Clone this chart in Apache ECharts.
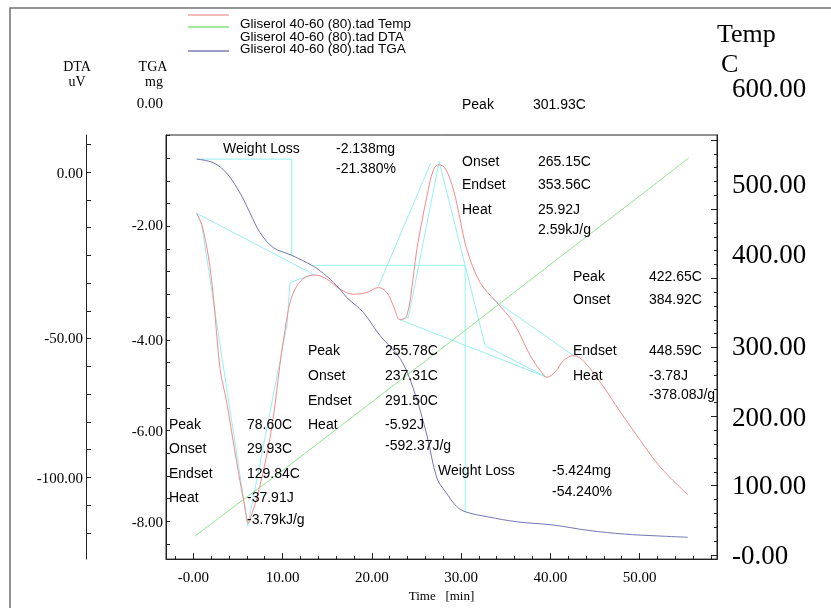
<!DOCTYPE html>
<html><head><meta charset="utf-8">
<script src="https://cdn.jsdelivr.net/npm/echarts@6/dist/echarts.min.js"></script>
<style>html,body{margin:0;padding:0;background:#fff}#c{width:831px;height:608px}</style>
</head><body><div id="c"></div>
<script>
// ---------------- data ----------------
const tempTime   = [0.19, 5, 10, 20, 30, 40, 50, 55.5];
const tempValues = [27, 74, 122, 221, 320, 420, 519, 574];            // C

const dtaTime   = [0.38,0.94,1.68,2.24,3.0,3.74,4.48,5.24,5.8,6.17,6.58,7.11,8.23,8.94,9.72,10.29,10.84,11.59,12.52,13.64,14.96,16.44,17.94,19.44,20.74,21.68,22.42,23.17,23.92,24.66,25.04,26.17,26.9,27.47,28.2,29.15,29.9,30.65,32.14,34.0,35.87,37.75,38.9,39.6,40.55,41.45,42.6,43.7,45.6,47.85,50.1,52.3,55.43];
const dtaValues = [-4.9,-8.9,-20.3,-34.6,-60.9,-72.9,-87.2,-101.5,-111.1,-116.5,-112.9,-107.5,-92,-78.8,-59.1,-46.6,-37.0,-31.1,-28.0,-27.1,-28.6,-32.2,-34.0,-33.4,-31.6,-33.4,-38.2,-43.2,-41.8,-27.5,-17.9,1.2,10.8,12.6,11.5,3.6,-7.2,-17.9,-29.8,-37,-44.2,-56.1,-61.6,-63.9,-62,-58,-56.1,-58,-65.7,-76.4,-86.7,-96.2,-106.3]; // uV

const tgaTime   = [0.38,2.24,3.74,5.24,6.36,7.48,8.97,11.03,13.45,14.96,16.44,17.2,19.06,20.93,23.2,24.66,26.17,27.3,28.3,29.5,30.5,33,36.3,40.3,44.3,48.3,52,55.4];
const tgaValues = [-0.02,-0.10,-0.33,-0.77,-1.21,-1.64,-1.97,-2.14,-2.38,-2.60,-2.89,-3.07,-3.40,-3.91,-4.42,-5.08,-6.10,-7.05,-7.36,-7.67,-7.79,-7.90,-8.01,-8.08,-8.20,-8.28,-8.32,-8.35]; // mg

// analysis lines drawn by the instrument software
const wl1Time = [0.38, 11.03, 11.03],  wl1Values = [-0.02, -0.02, -2.16];
const wl2Time = [13.45, 30.46, 30.46], wl2Values = [-2.36, -2.36, -7.79];
const base1Time = [0.38, 13.45],  base1Values = [-4.9, -26.8];
const tan1Time  = [0.38, 0.94, 6.1, 10.5, 10.84, 13.45], tan1Values = [-4.9, -9.0, -117.5, -45, -29.8, -26.8];
const tan2Time  = [20.75, 26.6], tan2Values = [-31.05, 13.2];
const tan3Time  = [23.17, 24.1, 27.55, 32.7, 39.6], tan3Values = [-43.2, -42.4, 13.8, -52.5, -63.9];
const base3Time = [23.17, 39.6], base3Values = [-43.2, -63.9];
const tan4Time  = [33.3, 42.6],  tan4Values = [-35.2, -56.1];

// tick labels as printed, and where the software printed them (axis units)
const xTickLabels   = ['-0.00','10.00','20.00','30.00','40.00','50.00'];
const xTickAt       = [0, 10, 20, 30, 40, 50];
const tgaTickLabels = ['0.00','-2.00','-4.00','-6.00','-8.00'];
const tgaTickAt     = [1.18, -1.48, -4.0, -6.0, -8.0];
const dtaTickLabels = ['0.00','-50.00','-100.00'];
const dtaTickAt     = [9.5, -50, -100];
const tempTickLabels= ['600.00','500.00','400.00','300.00','200.00','100.00','-0.00'];
const tempTickAt    = [672, 534, 433, 300, 199, 100, 0];

// ---------------- helpers ----------------
const zip = (a, b) => a.map((v, i) => [v, b[i]]);
const range = (from, to, step) => { const r = []; for (let v = from; step > 0 ? v <= to + 1e-9 : v >= to - 1e-9; v += step) r.push(+v.toFixed(6)); return r; };
const pick = (at, txt) => v => { let k = 0, b = Infinity; at.forEach((a, i) => { const d = Math.abs(a - v); if (d < b) { b = d; k = i; } }); return txt[k]; };

const X_MIN = -3.06, X_MAX = 58.68;
const AX = '#222';
const SERIF = '"Liberation Serif", "Times New Roman", serif';
const SANS = '"Liberation Sans", Arial, sans-serif';
const axisBase = { type: 'value', splitLine: { show: false }, axisLine: { onZero: false } };

const chart = echarts.init(document.getElementById('c'), null, { renderer: 'canvas' });

const yData = (idx, pos, offset, min, max, ticks, len) => Object.assign({}, axisBase, {
  gridIndex: 0, position: pos, offset, min, max,
  axisLine: { show: true, onZero: false, lineStyle: { color: AX, width: 1 } },
  axisTick: { show: true, inside: true, length: len, customValues: ticks, lineStyle: { color: AX } },
  axisLabel: { show: false }
});
const yLab = (pos, offset, min, max, at, txt, size, margin) => Object.assign({}, axisBase, {
  gridIndex: 1, position: pos, offset, min, max,
  axisLine: { show: false, onZero: false }, axisTick: { show: false },
  axisLabel: { show: true, customValues: at, formatter: pick(at, txt), margin,
               fontFamily: SERIF, fontSize: size, color: '#000' }
});

const lineS = (name, xi, yi, data, color, z) => ({
  name, type: 'line', xAxisIndex: xi, yAxisIndex: yi, data, showSymbol: false, symbol: 'none',
  smooth: false, lineStyle: { color, width: 1 }, z: z || 2, silent: true
});
const CYAN = '#96f0f0';

const annotations = [
  ['Weight Loss',223,149],['-2.138mg',336,149],['-21.380%',336,169],
  ['Peak',462,105],['301.93C',533,105],
  ['Onset',462,162],['265.15C',538,162],['Endset',462,185],['353.56C',538,185],['Heat',462,210],['25.92J',538,210],['2.59kJ/g',538,230],
  ['Peak',573,277],['422.65C',649,277],['Onset',573,300],['384.92C',649,300],['Endset',573,351],['448.59C',649,351],['Heat',573,376],['-3.78J',649,376],['-378.08J/g',649,395],
  ['Peak',308,351],['255.78C',385,351],['Onset',308,376],['237.31C',385,376],['Endset',308,401],['291.50C',385,401],['Heat',308,425],['-5.92J',385,425],['-592.37J/g',385,446],
  ['Weight Loss',438,471],['-5.424mg',552,471],['-54.240%',552,492],
  ['Peak',169,425],['78.60C',247,425],['Onset',169,449],['29.93C',247,449],['Endset',169,474],['129.84C',247,474],['Heat',169,498],['-37.91J',247,498],['-3.79kJ/g',247,520]
];
const txt = (t, x, y, font, align) => ({ type: 'text', x, y, silent: true, z: 50,
  style: { text: t, font, fill: '#000', align: align || 'left', verticalAlign: 'middle' } });

const graphic = [
  { type: 'rect', silent: true, z: -5, shape: { x: 10, y: 8, width: 840, height: 620 }, style: { fill: 'none', stroke: '#707070', lineWidth: 1.5 } },
  { type: 'line', silent: true, shape: { x1: 188, y1: 15, x2: 229, y2: 15 }, style: { stroke: '#f07878', lineWidth: 1.2 } },
  { type: 'line', silent: true, shape: { x1: 188, y1: 27, x2: 229, y2: 27 }, style: { stroke: '#40d840', lineWidth: 1.2 } },
  { type: 'line', silent: true, shape: { x1: 188, y1: 51, x2: 229, y2: 51 }, style: { stroke: '#3a3a8a', lineWidth: 1.2 } },
  txt('Gliserol 40-60 (80).tad Temp', 240, 24.3, '13.5px ' + SANS),
  txt('Gliserol 40-60 (80).tad DTA', 240, 36.8, '13.5px ' + SANS),
  txt('Gliserol 40-60 (80).tad TGA', 240, 49.3, '13.5px ' + SANS),
  txt('DTA', 77, 67, '14px ' + SERIF, 'center'),
  txt('uV', 77, 82, '14px ' + SERIF, 'center'),
  txt('TGA', 153, 67, '14px ' + SERIF, 'center'),
  txt('mg', 154, 82, '14px ' + SERIF, 'center'),
  txt('Temp', 717, 35, '26px ' + SERIF),
  txt('C', 721, 65, '26px ' + SERIF)
].concat(annotations.map(a => txt(a[0], a[1], a[2], '14px ' + SANS)));

const option = {
  animation: false,
  backgroundColor: '#fff',
  grid: [
    { left: 166, top: 135, width: 551, height: 426, show: true, borderColor: AX, borderWidth: 1, backgroundColor: 'transparent' },
    { left: 166, top: 80, width: 551, height: 481, show: false }
  ],
  xAxis: [
    Object.assign({}, axisBase, { gridIndex: 0, position: 'bottom', min: X_MIN, max: X_MAX,
      axisLine: { show: true, onZero: false, lineStyle: { color: AX } },
      axisTick: { show: true, inside: true, length: 6, customValues: xTickAt, lineStyle: { color: AX } },
      axisLabel: { customValues: xTickAt, formatter: pick(xTickAt, xTickLabels), margin: 11, fontFamily: SERIF, fontSize: 15, color: '#000' },
      name: 'Time   [min]', nameLocation: 'middle', nameGap: 26,
      nameTextStyle: { fontFamily: SERIF, fontSize: 13, color: '#000' } }),
    Object.assign({}, axisBase, { gridIndex: 0, position: 'bottom', min: X_MIN, max: X_MAX,
      axisLine: { show: false, onZero: false },
      axisTick: { show: true, inside: true, length: 3, customValues: range(-2, 58, 2), lineStyle: { color: AX } },
      axisLabel: { show: false } }),
    Object.assign({}, axisBase, { gridIndex: 1, min: X_MIN, max: X_MAX, show: false })
  ],
  yAxis: [
    yData(0, 'left', 0, -8.831, 0.511, range(0.5, -8.5, -0.5), 4),            // 0 TGA
    yData(1, 'left', 80, -129.4, 23.34, range(20, -120, -10), 5),              // 1 DTA
    yData(2, 'right', 0, -6.19, 607.3, range(0, 600, 20), 3),                  // 2 Temp minor
    yData(3, 'right', 0, -6.19, 607.3, range(0, 600, 100), 6),                 // 3 Temp major
    yLab('left', 0, -8.831, 1.717, tgaTickAt, tgaTickLabels, 15, 3),           // 4 TGA labels
    yLab('left', 80, -129.4, 43.06, dtaTickAt, dtaTickLabels, 15, 3),          // 5 DTA labels
    yLab('right', 0, -6.19, 686.5, tempTickAt, tempTickLabels, 27, 15)         // 6 Temp labels
  ],
  series: [
    lineS('wl1', 0, 0, zip(wl1Time, wl1Values), CYAN, 1),
    lineS('wl2', 0, 0, zip(wl2Time, wl2Values), CYAN, 1),
    lineS('base1', 0, 1, zip(base1Time, base1Values), CYAN, 1),
    lineS('tan1', 0, 1, zip(tan1Time, tan1Values), CYAN, 1),
    lineS('tan2', 0, 1, zip(tan2Time, tan2Values), CYAN, 1),
    lineS('tan3', 0, 1, zip(tan3Time, tan3Values), CYAN, 1),
    lineS('base3', 0, 1, zip(base3Time, base3Values), CYAN, 1),
    lineS('tan4', 0, 1, zip(tan4Time, tan4Values), CYAN, 1),
    Object.assign(lineS('Temp', 0, 2, zip(tempTime, tempValues), '#8fe68f', 3), { smooth: 0.3 }),
    Object.assign(lineS('DTA', 0, 1, zip(dtaTime, dtaValues), '#f58a8a', 4), { smooth: 0.35 }),
    Object.assign(lineS('TGA', 0, 0, zip(tgaTime, tgaValues), '#7474b4', 4), { smooth: 0.35 })
  ],
  graphic
};
chart.setOption(option);
</script></body></html>
